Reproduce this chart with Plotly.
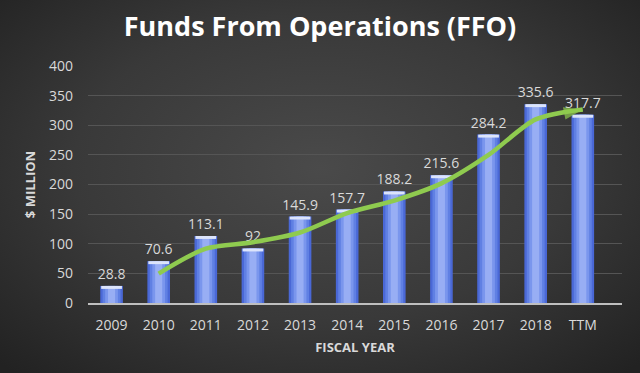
import plotly.graph_objects as go

categories = ["2009", "2010", "2011", "2012", "2013", "2014", "2015", "2016", "2017", "2018", "TTM"]
ffo_values = [28.8, 70.6, 113.1, 92, 145.9, 157.7, 188.2, 215.6, 284.2, 335.6, 317.7]
y_ticks = [0, 50, 100, 150, 200, 250, 300, 350, 400]

# 2-period moving average trend (starts at second category)
trend_x = categories[1:]
trend_y = [(ffo_values[i - 1] + ffo_values[i]) / 2 for i in range(1, len(ffo_values))]

W, H = 640, 373
ML, MR, MT, MB = 88, 18, 66, 70

fig = go.Figure()

# Bar layers to mimic a horizontal gradient
layers = [(0.48, "#4a68d6"), (0.38, "#6080e3"), (0.27, "#7a96ed"), (0.15, "#98aef4")]
for i, (w, c) in enumerate(layers):
    fig.add_trace(go.Bar(
        x=categories, y=ffo_values, width=w, marker=dict(color=c, line=dict(width=0)),
        text=[str(v) for v in ffo_values] if i == 0 else None,
        textposition="outside" if i == 0 else "none",
        constraintext="none",
        textfont=dict(color="#d9d9d9", size=14, family="Open Sans"),
        cliponaxis=False, hoverinfo="skip", showlegend=False,
    ))

# Top bevel cap
cap = 5
fig.add_trace(go.Bar(
    x=categories, y=[cap] * len(ffo_values), base=[v - cap for v in ffo_values],
    width=0.44, marker=dict(color="#dce4fb", line=dict(width=0)),
    hoverinfo="skip", showlegend=False,
))

# Green trend line with arrow
sizes = [0] * (len(trend_x) - 1) + [20]
fig.add_trace(go.Scatter(
    x=trend_x, y=trend_y, mode="lines+markers",
    line=dict(color="#8fcb4f", width=4.5, shape="spline", smoothing=0.8),
    marker=dict(symbol="arrow", size=sizes, angleref="previous", color="#8fcb4f",
                line=dict(width=0)),
    cliponaxis=False, hoverinfo="skip", showlegend=False,
))

fig.update_layout(
    width=W, height=H,
    margin=dict(l=ML, r=MR, t=MT, b=MB, pad=0),
    paper_bgcolor="rgba(0,0,0,0)", plot_bgcolor="rgba(0,0,0,0)",
    barmode="overlay", bargap=0.5,
    font=dict(family="Open Sans", color="#d9d9d9"),
    title=dict(text="<b>Funds From Operations (FFO)</b>", x=0.5, xanchor="center",
               y=1 - 27 / H, yanchor="middle",
               font=dict(size=27, color="#ffffff", family="Open Sans")),
    xaxis=dict(
        categoryorder="array", categoryarray=categories,
        showgrid=False, showline=True, linecolor="#bfbfbf", linewidth=2,
        ticks="", ticklabelstandoff=8, tickfont=dict(size=14, color="#d9d9d9"),
        title=dict(text="<b>FISCAL YEAR</b>", font=dict(size=13, color="#d9d9d9"), standoff=10),
    ),
    yaxis=dict(
        range=[0, 400], tickvals=y_ticks, ticktext=[str(t) for t in y_ticks],
        showgrid=True, gridcolor="#555555", gridwidth=1, zeroline=False,
        showline=False, ticks="", ticklabelstandoff=14,
        tickfont=dict(size=14, color="#d9d9d9"),
        title=dict(text="<b>$ MILLION</b>", font=dict(size=13, color="#d9d9d9"), standoff=10),
    ),
)

bg_js = (
    "var h=document.documentElement,b=document.body;"
    "b.style.margin='0';b.style.overflow='hidden';"
    "h.style.height='100%';b.style.height='100%';"
    "h.style.background='radial-gradient(ellipse 70% 75% at 50% 45%, #4a4a4a 0%, #393939 55%, #222222 100%)';"
    "b.style.background='transparent';"
)

fig.write_html("out.html", config={"displayModeBar": False}, post_script=bg_js)
